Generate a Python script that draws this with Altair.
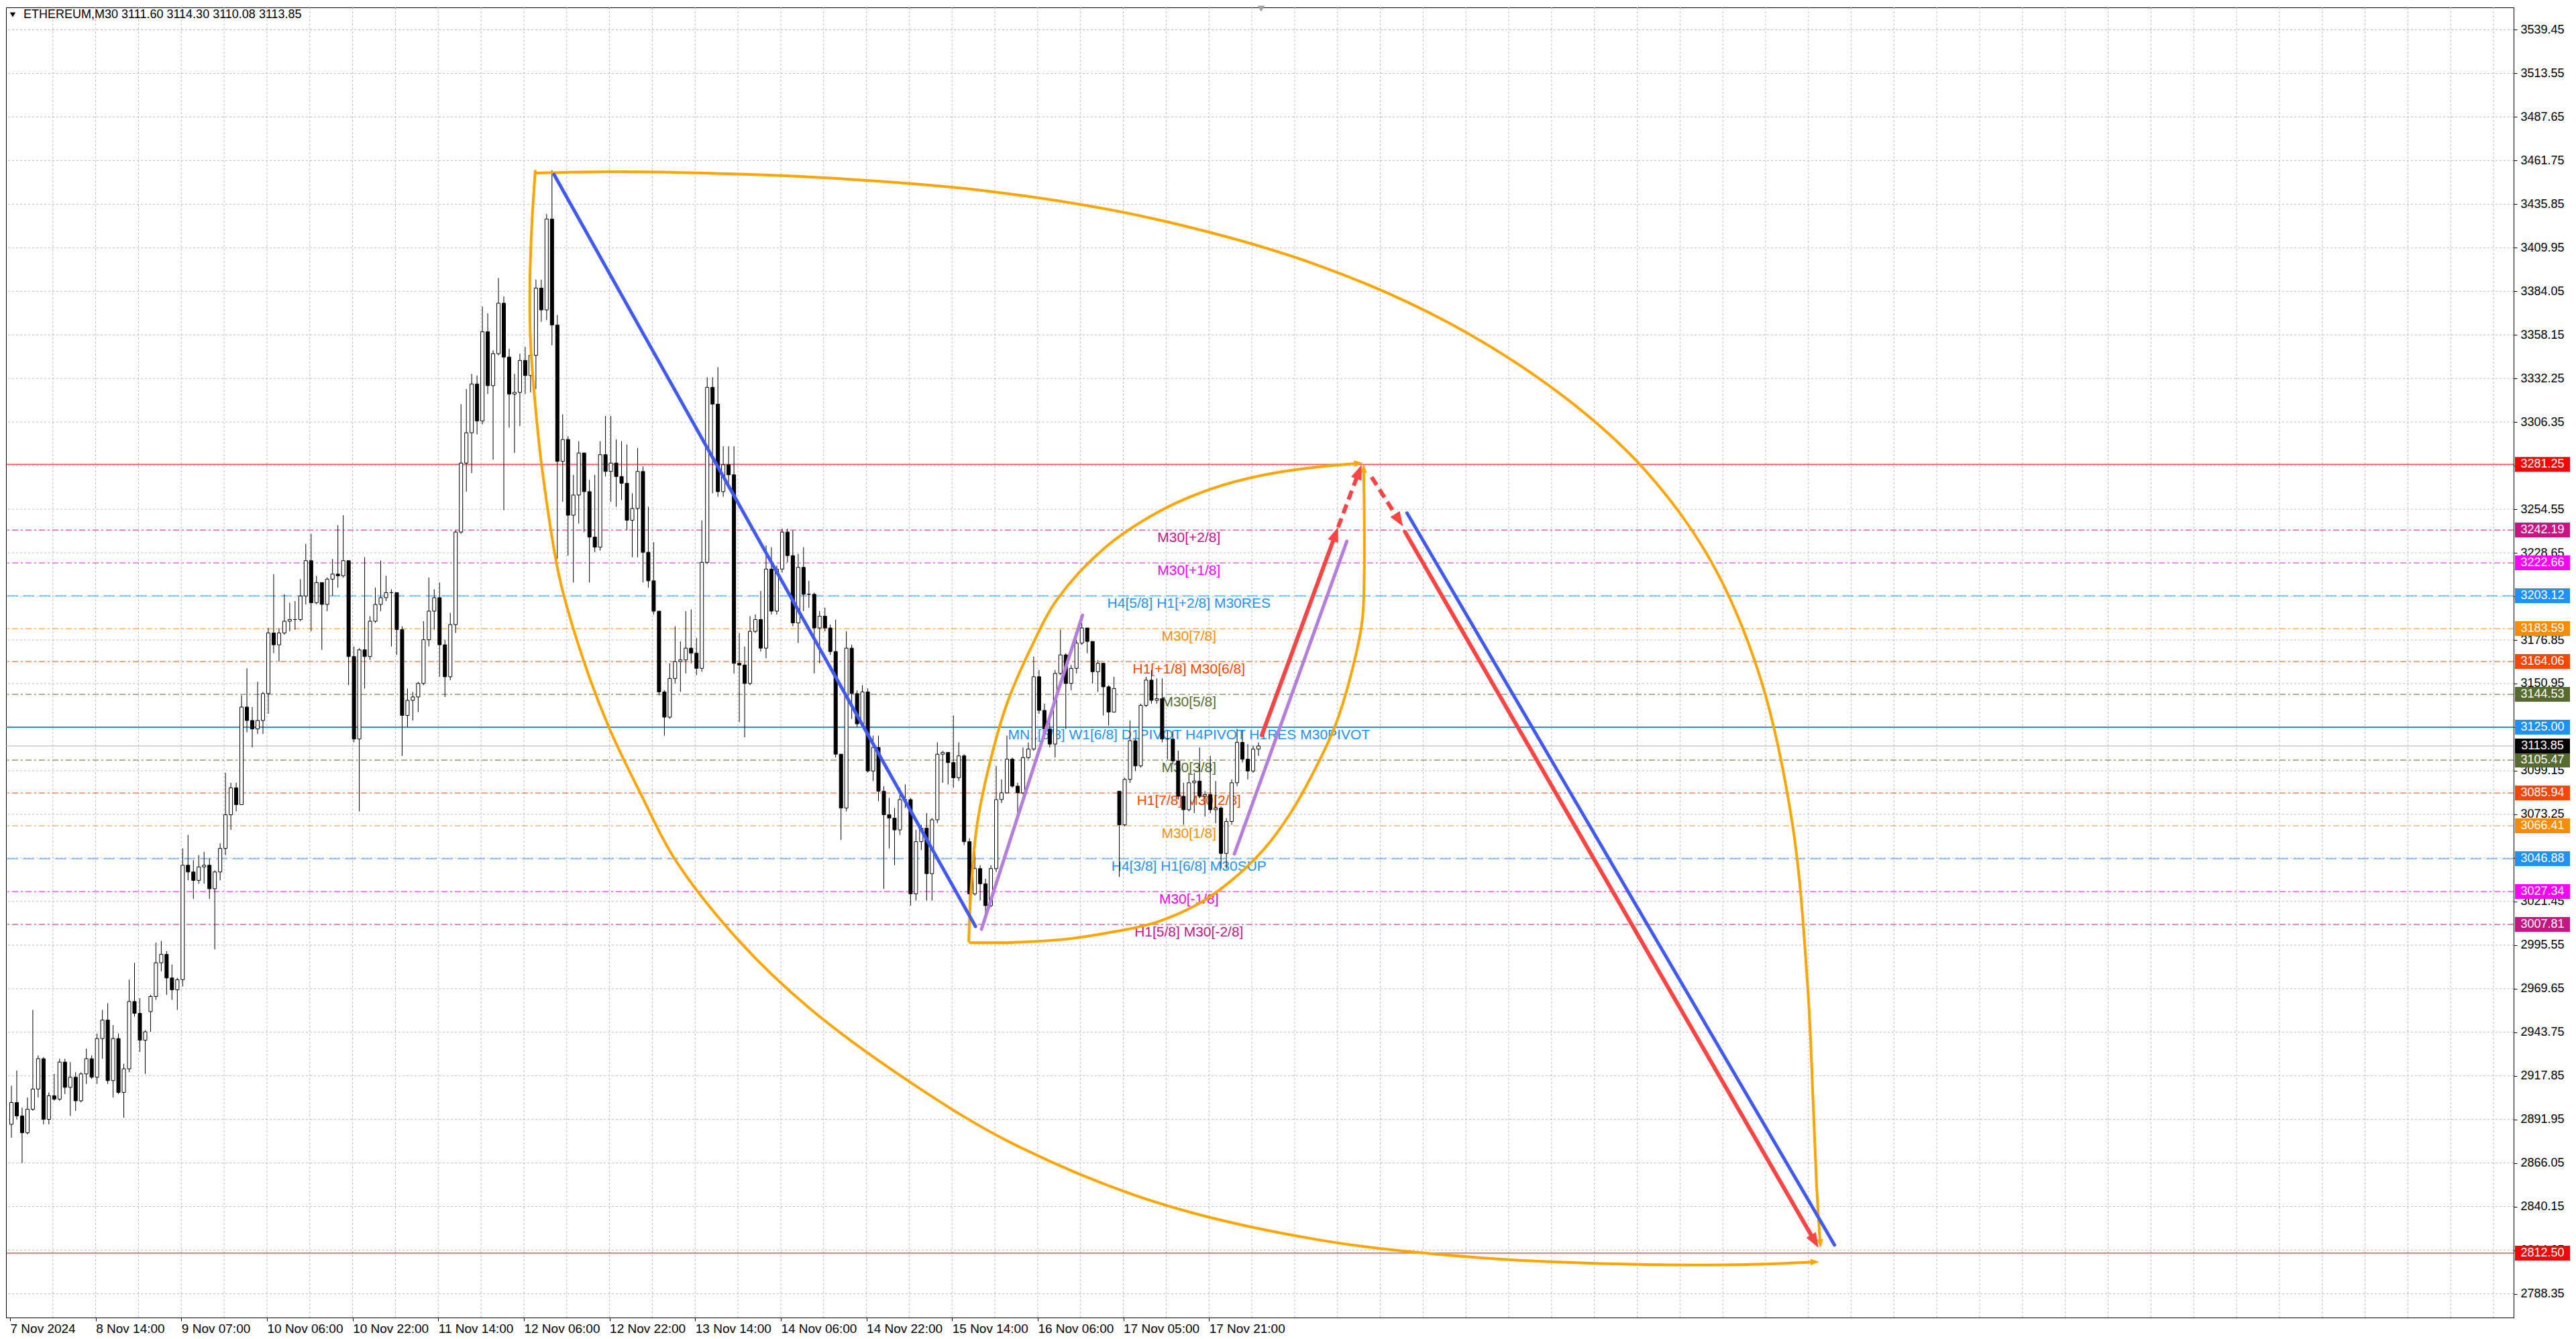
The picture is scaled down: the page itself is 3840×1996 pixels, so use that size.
import math
import pandas as pd
import altair as alt

# ---------------- ETHEREUM M30 - candles, grouped by hour ----------------
first_open = 2889
gap_opens = {26: 2956, 207: 3087}

closes = [
    2902, 2894, 2884, 2898, 2910, 2928, 2892, 2906, 2904, 2926,
    2911, 2917, 2903, 2919, 2928, 2917, 2940, 2951, 2915, 2940,
    2908, 2922, 2962, 2955, 2939, 2944, 2965, 2985, 2990, 2976,
    2969, 2975, 3043, 3039, 3034, 3042, 3043, 3029, 3039, 3053,
    3073, 3089, 3079, 3137, 3129, 3124, 3129, 3145, 3181, 3174,
    3181, 3188, 3189, 3189, 3203, 3224, 3199, 3211, 3198, 3213,
    3216, 3215, 3224, 3167, 3118, 3171, 3167, 3188, 3198, 3202,
    3205, 3205, 3183, 3132, 3141, 3143, 3151, 3177, 3194, 3202,
    3174, 3155, 3186, 3241, 3282, 3300, 3329, 3307, 3360, 3328,
    3347, 3377, 3345, 3323, 3324, 3343, 3334, 3346, 3386, 3373,
    3427, 3364, 3283, 3296, 3251, 3263, 3288, 3265, 3238, 3232,
    3287, 3277, 3282, 3274, 3270, 3248, 3255, 3277, 3229, 3212,
    3194, 3146, 3131, 3154, 3164, 3165, 3172, 3169, 3160, 3223,
    3327, 3317, 3265, 3281, 3275, 3163, 3162, 3151, 3182, 3189,
    3172, 3219, 3194, 3219, 3241, 3227, 3187, 3220, 3204, 3204,
    3184, 3191, 3184, 3170, 3109, 3077, 3172, 3145, 3127, 3146,
    3099, 3113, 3087, 3073, 3071, 3064, 3082, 3082, 3026, 3057,
    3065, 3038, 3070, 3109, 3110, 3104, 3095, 3108, 3057, 3026,
    3041, 3032, 3019, 3041, 3082, 3086, 3106, 3090, 3086, 3107,
    3112, 3155, 3135, 3124, 3115, 3157, 3168, 3151, 3160, 3175,
    3184, 3176, 3158, 3163, 3149, 3134, 3148, 3067, 3094, 3117,
    3102, 3138, 3153, 3141, 3142, 3118, 3118, 3105, 3084, 3076,
    3092, 3093, 3084, 3085, 3076, 3077, 3050, 3069, 3092, 3116,
    3106, 3099, 3112, 3113.85,
]
highs = [
    2912, 2921, 2899, 2905, 2957, 2930, 2929, 2908, 2919, 2928,
    2928, 2926, 2920, 2920, 2934, 2930, 2943, 2957, 2961, 2948,
    2943, 2925, 2975, 2985, 2964, 2945, 2966, 2997, 2998, 2992,
    2984, 2976, 3053, 3061, 3046, 3049, 3051, 3047, 3040, 3056,
    3098, 3092, 3092, 3144, 3160, 3137, 3152, 3146, 3184, 3216,
    3184, 3204, 3199, 3200, 3213, 3234, 3240, 3215, 3211, 3214,
    3225, 3245, 3251, 3224, 3173, 3172, 3226, 3191, 3208, 3224,
    3215, 3207, 3200, 3185, 3148, 3146, 3152, 3188, 3214, 3207,
    3211, 3177, 3193, 3242, 3317, 3326, 3335, 3334, 3375, 3371,
    3349, 3392, 3381, 3350, 3335, 3347, 3351, 3354, 3391, 3391,
    3430, 3456, 3370, 3311, 3298, 3275, 3295, 3288, 3272, 3275,
    3295, 3310, 3310, 3296, 3295, 3293, 3264, 3291, 3280, 3256,
    3235, 3194, 3147, 3163, 3185, 3176, 3194, 3195, 3178, 3248,
    3333, 3333, 3339, 3292, 3292, 3292, 3181, 3173, 3191, 3192,
    3206, 3233, 3232, 3221, 3243, 3243, 3242, 3228, 3232, 3212,
    3205, 3194, 3196, 3186, 3189, 3109, 3182, 3174, 3147, 3150,
    3148, 3120, 3120, 3090, 3083, 3077, 3089, 3091, 3083, 3064,
    3067, 3074, 3071, 3116, 3111, 3109, 3132, 3116, 3109, 3059,
    3051, 3043, 3035, 3043, 3102, 3094, 3120, 3107, 3092, 3113,
    3116, 3167, 3159, 3139, 3133, 3159, 3183, 3169, 3162, 3177,
    3187, 3183, 3173, 3165, 3163, 3150, 3155, 3087, 3095, 3129,
    3118, 3139, 3155, 3159, 3154, 3154, 3123, 3123, 3111, 3092,
    3098, 3098, 3113, 3087, 3108, 3093, 3078, 3071, 3094, 3124,
    3123, 3115, 3114, 3116,
]
lows = [
    2881, 2892, 2866, 2883, 2897, 2905, 2889, 2889, 2903, 2903,
    2907, 2894, 2897, 2902, 2913, 2916, 2913, 2928, 2913, 2905,
    2907, 2893, 2920, 2953, 2932, 2919, 2944, 2963, 2980, 2966,
    2963, 2957, 2971, 3034, 3023, 3032, 3032, 3023, 2993, 3034,
    3049, 3064, 3075, 3079, 3122, 3113, 3121, 3121, 3133, 3169,
    3164, 3180, 3182, 3183, 3188, 3198, 3182, 3198, 3171, 3194,
    3203, 3208, 3214, 3150, 3116, 3075, 3148, 3165, 3187, 3194,
    3200, 3173, 3168, 3108, 3125, 3129, 3134, 3150, 3173, 3183,
    3155, 3143, 3153, 3181, 3240, 3265, 3276, 3299, 3305, 3323,
    3284, 3346, 3254, 3303, 3288, 3304, 3323, 3324, 3326, 3366,
    3367, 3352, 3225, 3259, 3227, 3211, 3246, 3241, 3211, 3229,
    3230, 3274, 3259, 3256, 3260, 3242, 3226, 3226, 3211, 3208,
    3192, 3144, 3120, 3130, 3151, 3146, 3157, 3163, 3156, 3158,
    3222, 3264, 3262, 3262, 3270, 3157, 3128, 3119, 3150, 3181,
    3170, 3166, 3192, 3192, 3217, 3223, 3185, 3175, 3194, 3196,
    3157, 3163, 3182, 3168, 3107, 3058, 3075, 3130, 3125, 3125,
    3098, 3093, 3081, 3029, 3053, 3043, 3061, 3077, 3019, 3022,
    3052, 3022, 3022, 3068, 3092, 3091, 3089, 3093, 3055, 3017,
    3025, 3022, 3014, 3018, 3039, 3080, 3086, 3089, 3072, 3085,
    3106, 3111, 3133, 3123, 3113, 3107, 3156, 3124, 3147, 3157,
    3174, 3169, 3151, 3146, 3132, 3126, 3134, 3036, 3066, 3092,
    3099, 3101, 3137, 3139, 3139, 3116, 3106, 3103, 3082, 3067,
    3075, 3074, 3083, 3072, 3074, 3068, 3041, 3041, 3067, 3090,
    3104, 3094, 3098, 3108,
]

# x axis: one label every 32 half-hour bars
time_labels = ['7 Nov 2024', '8 Nov 14:00', '9 Nov 07:00', '10 Nov 06:00', '10 Nov 22:00',
               '11 Nov 14:00', '12 Nov 06:00', '12 Nov 22:00', '13 Nov 14:00', '14 Nov 06:00',
               '14 Nov 22:00', '15 Nov 14:00', '16 Nov 06:00', '17 Nov 05:00', '17 Nov 21:00']
label_bars = [0, 32, 64, 96, 128, 160, 192, 224, 256, 288, 320, 352, 384, 416, 448]
price_ticks = [2788.35, 2814.25, 2840.15, 2866.05, 2891.95, 2917.85, 2943.75, 2969.65, 2995.55,
               3021.45, 3047.35, 3073.25, 3099.15, 3125.05, 3150.95, 3176.85, 3202.75, 3228.65,
               3254.55, 3280.45, 3306.35, 3332.25, 3358.15, 3384.05, 3409.95, 3435.85, 3461.75,
               3487.65, 3513.55, 3539.45]

# murrey / pivot levels
level_prices = [3281.25, 3242.19, 3222.66, 3203.12, 3183.59, 3164.06, 3144.53, 3125.00,
                3105.47, 3085.94, 3066.41, 3046.88, 3027.34, 3007.81, 2812.50]
level_colors = ['#FF0000', '#C71585', '#FF00FF', '#1E90FF', '#FF8C00', '#FF4500', '#556B2F',
                '#1E90FF', '#556B2F', '#FF4500', '#FF8C00', '#1E90FF', '#FF00FF', '#C71585', '#FF0000']
level_styles = ['solid', 'dashdot', 'dashdot', 'dash', 'dashdot', 'dashdot', 'dashdot', 'bold',
                'dashdot', 'dashdot', 'dashdot', 'dash', 'dashdot', 'dashdot', 'solid']
level_texts = ['', 'M30[+2/8]', 'M30[+1/8]', 'H4[5/8] H1[+2/8] M30RES', 'M30[7/8]',
               'H1[+1/8] M30[6/8]', 'M30[5/8]', 'MN1[5/8] W1[6/8] D1PIVOT H4PIVOT H1RES M30PIVOT',
               'M30[3/8]', 'H1[7/8] M30[2/8]', 'M30[1/8]', 'H4[3/8] H1[6/8] M30SUP', 'M30[-1/8]',
               'H1[5/8] M30[-2/8]', '']
last_price = 3113.85
title_text = 'ETHEREUM,M30  3111.60 3114.30 3110.08 3113.85'

# hand drawn objects (bar index, price)
blue_a_bar, blue_a_price = [203.25, 360.75], [3453.5, 3006.6]
blue_b_bar, blue_b_price = [522.0, 681.75], [3252.3, 2817.3]
purple_a_bar, purple_a_price = [363.0, 400.75], [3005.0, 3191.6]
purple_b_bar, purple_b_price = [457.5, 499.5], [3049.7, 3235.5]
red_up_bar, red_up_price = [467.75, 496.25], [3120.3, 3243.9]
red_up2_bar, red_up2_price = [496.25, 505.0], [3243.9, 3280.9]
red_dn1_bar, red_dn1_price = [508.75, 520.5], [3273.7, 3244.3]
red_dn_bar, red_dn_price = [521.25, 675.75], [3241.1, 2815.7]

curve_a_bar = [196.25, 223.75, 248.75, 304.75, 366.0, 427.25, 488.5, 537.5, 580.5, 611.0,
               635.5, 653.75, 666.0, 671.75, 673.75, 675.0, 676.5]
curve_a_price = [3454.3, 3455.1, 3454.7, 3451.5, 3443.5, 3427.2, 3399.7, 3365.4, 3321.6, 3277.7,
                 3223.9, 3155.7, 3067.6, 2969.9, 2902.1, 2854.3, 2815.6]
curve_b_bar = [196.25, 195.0, 194.25, 194.5, 196.25, 198.75, 205.25, 213.75, 223.75, 236.25, 248.5,
               272.5, 298.75, 336.25, 373.75, 427.25, 488.5, 549.75, 611.0, 648.75, 676.0]
curve_b_price = [3455.5, 3424.4, 3390.1, 3353.5, 3316.8, 3279.3, 3214.3, 3167.3, 3125.0, 3083.5,
                 3046.4, 2997.9, 2958.0, 2914.2, 2878.3, 2843.2, 2820.5, 2809.7, 2805.7, 2805.7, 2807.3]
curve_c_bar = [358.25, 359.0, 361.25, 365.75, 372.5, 381.25, 391.25, 408.75, 429.25, 448.75,
               468.75, 488.75, 505.5]
curve_c_price = [2997.9, 3025.8, 3066.0, 3101.5, 3139.0, 3171.4, 3200.9, 3231.2, 3253.1, 3266.6,
                 3275.0, 3279.7, 3282.1]
curve_d_bar = [358.75, 373.75, 394.75, 411.25, 428.25, 443.75, 456.0, 468.75, 478.5, 487.5,
               495.25, 501.25, 505.25, 506.0, 506.0, 505.75]
curve_d_price = [2997.1, 2997.1, 2999.1, 3003.1, 3009.1, 3019.8, 3033.4, 3052.9, 3074.1, 3099.6,
                 3126.3, 3157.4, 3188.1, 3217.2, 3253.1, 3281.4]

# ---------------- layout ----------------
W, H = 3738, 1953
X_DOM = [-0.25, 934.25]
Y_DOM = [2774.2, 3552.8]
PX_BAR = W / (X_DOM[1] - X_DOM[0])
PX_USD = H / (Y_DOM[1] - Y_DOM[0])
FONT = 'Liberation Sans'
LABEL_BAR = 440.5
RED, BLUE, PURPLE, ORANGE = '#FF4444', '#415AF5', '#B57EDC', '#FFA500'
HEAD_PATH = 'M0,-1L0.75,1L-0.75,1Z'

xs = alt.Scale(domain=X_DOM, nice=False, zero=False)
ys = alt.Scale(domain=Y_DOM, nice=False, zero=False)

label_expr = '[' + ','.join("'%s'" % t for t in time_labels) + '][round(datum.value / 32)]'
x_axis = alt.Axis(values=label_bars, labelExpr=label_expr, orient='bottom', grid=False,
                  tickSize=5, tickColor='black', domainColor='black', labelAlign='left',
                  labelFont=FONT, labelFontSize=19, labelColor='black', labelPadding=2,
                  labelFlush=False, labelOverlap=False, labelBound=False, title=None)
y_axis = alt.Axis(values=price_ticks, format='.2f', orient='right', grid=False, tickSize=5,
                  tickColor='black', domainColor='black', labelFont=FONT, labelFontSize=18,
                  labelColor='black', labelPadding=5, labelFlush=False, labelOverlap=False,
                  labelBound=False, title=None)


def X(f='bar'):
    return alt.X(f + ':Q', scale=xs, axis=x_axis)


def Y(f='price'):
    return alt.Y(f + ':Q', scale=ys, axis=y_axis)


# candles
opens = []
for k in range(len(closes)):
    if k == 0:
        opens.append(first_open)
    elif k in gap_opens:
        opens.append(gap_opens[k])
    else:
        opens.append(closes[k - 1])
candles = pd.DataFrame({
    'bar': [2 * k + 0.5 for k in range(len(closes))],
    'o': opens, 'c': closes,
    'h': [max(h, o, c) for h, o, c in zip(highs, opens, closes)],
    'l': [min(l, o, c) for l, o, c in zip(lows, opens, closes)],
})
candles['fill'] = ['white' if c >= o else 'black' for o, c in zip(candles.o, candles.c)]

wicks = alt.Chart(candles).mark_rule(color='black', strokeWidth=1).encode(
    x=X(), y=Y('l'), y2='h:Q')
bodies = alt.Chart(candles).mark_bar(size=5, stroke='black', strokeWidth=1).encode(
    x=X(), y=Y('o'), y2='c:Q', fill=alt.Fill('fill:N', scale=None))

# grid
hgrid = alt.Chart(pd.DataFrame({'price': price_ticks})).mark_rule(
    color='#BDBDBD', strokeWidth=1, strokeDash=[3, 3]).encode(y=Y())
vgrid = alt.Chart(pd.DataFrame({'bar': list(range(16, 935, 16))})).mark_rule(
    color='#BDBDBD', strokeWidth=1, strokeDash=[3, 3]).encode(x=X())

levels = pd.DataFrame({'price': level_prices, 'color': level_colors,
                       'style': level_styles, 'text': level_texts})
level_layers = []
for style, extra in [('dashdot', dict(strokeWidth=1, strokeDash=[9, 4, 3, 4])),
                     ('dash', dict(strokeWidth=1, strokeDash=[17, 7])),
                     ('solid', dict(strokeWidth=1)),
                     ('bold', dict(strokeWidth=2))]:
    level_layers.append(alt.Chart(levels[levels['style'] == style]).mark_rule(**extra).encode(
        y=Y(), color=alt.Color('color:N', scale=None)))
last_line = alt.Chart(pd.DataFrame({'price': [last_price]})).mark_rule(
    color='#B0B0B0', strokeWidth=1).encode(y=Y())

lab = levels[levels['text'] != ''].copy()
lab['bar'] = LABEL_BAR
level_labels = alt.Chart(lab).mark_text(font=FONT, fontSize=21, align='center',
                                        baseline='middle', dy=12).encode(
    x=X(), y=Y(), text='text:N', color=alt.Color('color:N', scale=None))


# drawn objects
def unit_dir(b, p):
    dx = (b[-1] - b[-2]) * PX_BAR
    dy = -(p[-1] - p[-2]) * PX_USD
    n = math.hypot(dx, dy)
    return dx / n, dy / n


heads = []


def path_layer(b, p, color, width, head=None, dash=None, interp='linear'):
    b, p = list(b), list(p)
    if head:
        ux, uy = unit_dir(b, p)
        r = math.sqrt(head) / 2
        heads.append({'bar': b[-1] - ux * r / PX_BAR, 'price': p[-1] + uy * r / PX_USD,
                      'angle': math.degrees(math.atan2(ux, -uy)) % 360,
                      'size': head, 'color': color})
        b[-1] -= ux * 1.2 * r / PX_BAR
        p[-1] += uy * 1.2 * r / PX_USD
    df = pd.DataFrame({'k': list(range(len(b))), 'bar': b, 'price': p})
    kw = dict(color=color, strokeWidth=width, interpolate=interp,
              strokeCap='butt' if dash else 'round')
    if dash:
        kw['strokeDash'] = dash
    return alt.Chart(df).mark_line(**kw).encode(x=X(), y=Y(), order='k:Q')


drawn = [
    path_layer(curve_b_bar, curve_b_price, ORANGE, 4, head=169, interp='catmull-rom'),
    path_layer(curve_a_bar, curve_a_price, ORANGE, 4, head=169, interp='catmull-rom'),
    path_layer(curve_c_bar, curve_c_price, ORANGE, 4, head=169, interp='catmull-rom'),
    path_layer(curve_d_bar, curve_d_price, ORANGE, 4, head=169, interp='catmull-rom'),
    path_layer(blue_a_bar, blue_a_price, BLUE, 5),
    path_layer(blue_b_bar, blue_b_price, BLUE, 5),
    path_layer(purple_a_bar, purple_a_price, PURPLE, 5),
    path_layer(purple_b_bar, purple_b_price, PURPLE, 5),
    path_layer(red_up_bar, red_up_price, RED, 6, head=484),
    path_layer(red_up2_bar, red_up2_price, RED, 6, head=484, dash=[14, 8]),
    path_layer(red_dn1_bar, red_dn1_price, RED, 6, head=484, dash=[14, 8]),
    path_layer(red_dn_bar, red_dn_price, RED, 6, head=484),
]
arrow_heads = alt.Chart(pd.DataFrame(heads)).mark_point(
    shape=HEAD_PATH, filled=True, opacity=1, strokeWidth=0).encode(
    x=X(), y=Y(), size=alt.Size('size:Q', scale=None),
    angle=alt.Angle('angle:Q', scale=None), color=alt.Color('color:N', scale=None))

# price boxes on the right scale
box_prices = level_prices + [last_price]
boxes = pd.DataFrame({'price': box_prices,
                      'color': level_colors + ['#000000'],
                      'text': ['%.2f' % v for v in box_prices]})
half = 11 / PX_USD
boxes['top'] = boxes['price'] + half
boxes['bot'] = boxes['price'] - half
box_rects = alt.Chart(boxes).mark_rect().encode(
    x=alt.value(W + 2), x2=alt.value(W + 84), y=Y('top'), y2='bot:Q',
    color=alt.Color('color:N', scale=None))
box_texts = alt.Chart(boxes).mark_text(font=FONT, fontSize=18, color='white', align='center',
                                       baseline='middle').encode(
    x=alt.value(W + 43), y=Y(), text='text:N')

# header
title = alt.Chart(pd.DataFrame({'t': [title_text]})).mark_text(
    font=FONT, fontSize=18, color='black', align='left', baseline='middle').encode(
    x=alt.value(26), y=alt.value(11), text='t:N')
title_marker = alt.Chart(pd.DataFrame({'t': [0]})).mark_point(
    shape='triangle-down', filled=True, color='black', size=70, opacity=1).encode(
    x=alt.value(10), y=alt.value(11))
shift_marker = alt.Chart(pd.DataFrame({'bar': [467.5]})).mark_point(
    shape='triangle-down', filled=True, color='#A0A0A0', size=110, opacity=1).encode(
    x=X(), y=alt.value(2))

chart = alt.layer(
    hgrid, vgrid, *level_layers, last_line, level_labels, wicks, bodies,
    *drawn, arrow_heads, box_rects, box_texts, title, title_marker, shift_marker,
).properties(
    width=W, height=H, padding=0, background='white'
).configure_view(stroke='black', strokeWidth=1)

chart.save('out.html', embed_options={'renderer': 'svg', 'actions': False})
